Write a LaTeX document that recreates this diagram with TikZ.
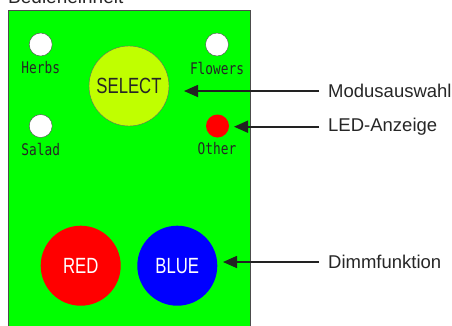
\documentclass[tikz,border=0pt]{standalone}
\usepackage{fontspec}
\setmainfont{Liberation Sans}
\newfontfamily\monof[FakeStretch=0.8]{DejaVu Sans Mono}
\newfontfamily\condf[FakeStretch=0.76]{Liberation Sans}
\usetikzlibrary{arrows.meta}
\definecolor{panelgreen}{RGB}{0,255,0}
\definecolor{selyellow}{RGB}{192,255,0}
\definecolor{arrowgray}{RGB}{34,34,34}
\tikzset{
  led/.style={circle,draw=black!70,line width=0.4pt,minimum size=23pt,inner sep=0pt},
  bigbtn/.style={circle,minimum size=80pt,inner sep=0pt,font=\condf\fontsize{22}{22}\selectfont},
  ledlabel/.style={font=\monof\fontsize{16}{16}\selectfont,text=black!85,inner sep=0pt},
  desc/.style={font=\fontsize{18.5}{18.5}\selectfont,text=black!85,anchor=west,inner sep=0pt},
  pointer/.style={draw=arrowgray,line width=1.6pt,-{Triangle[length=14pt,width=12pt]}}
}
\begin{document}
\begin{tikzpicture}[x=1pt,y=-1pt]
\useasboundingbox (0,0) rectangle (452,325);
\node[anchor=base west,inner sep=0pt,font=\fontsize{19}{19}\selectfont,text=black!85] (title) at (8,3) {Bedieneinheit};
\draw[fill=panelgreen,draw=black!70,line width=0.8pt] (8.5,10) rectangle (250,340);
% small LEDs
\node[led,fill=white] (herbs) at (40.7,44.5) {};
\node[led,fill=white] (flowers) at (217,44.5) {};
\node[led,fill=white] (salad) at (40.7,126) {};
\node[led,fill=red,draw=none] (other) at (217.5,126) {};
\node[ledlabel] (herbsl) at (40.7,68) {Herbs};
\node[ledlabel] (flowersl) at (217,68) {Flowers};
\node[ledlabel] (saladl) at (40.7,149) {Salad};
\node[ledlabel] (otherl) at (217,149) {Other};
% buttons
\node[bigbtn,fill=selyellow,draw=black!60,line width=0.4pt,text=black!85] (select) at (129,86) {SELECT};
\node[bigbtn,fill=red,text=white] (redb) at (80.7,265.7) {RED};
\node[bigbtn,fill=blue,text=white] (blueb) at (177.3,265.7) {BLUE};
% descriptions
\node[desc] (mod) at (328,91) {Modusauswahl};
\node[desc] (ledd) at (328,126.7) {LED-Anzeige};
\node[desc] (dimm) at (328,262) {Dimmfunktion};
\coordinate (modtip) at (184,91);
\coordinate (ledtip) at (234,126.7);
\coordinate (dimmtip) at (223,262);
\draw[pointer] ([xshift=-9pt]mod.west) -- (modtip);
\draw[pointer] ([xshift=-9pt]ledd.west) -- (ledtip);
\draw[pointer] ([xshift=-9pt]dimm.west) -- (dimmtip);
\end{tikzpicture}
\end{document}
